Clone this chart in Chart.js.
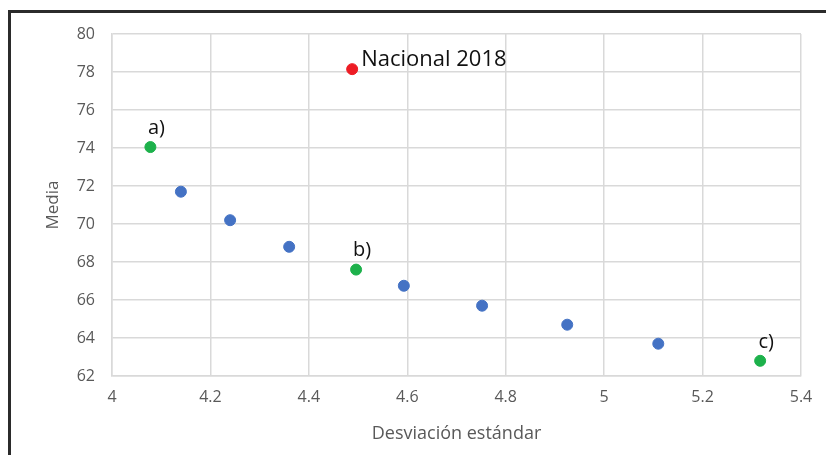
<!DOCTYPE html>
<html>
<head>
<meta charset="utf-8">
<script src="https://cdn.jsdelivr.net/npm/chart.js@4"></script>
<style>
    html, body { margin: 0; padding: 0; background: #fff; }
    .frame {
        position: absolute;
        left: 8px;
        top: 10px;
        width: 830px;
        height: 460px;
        border-left: 3px solid #2b2b2b;
        border-top: 3px solid #2b2b2b;
    }
    .chart-box {
        position: absolute;
        left: 0;
        top: 0;
        width: 826px;
        height: 455px;
    }
</style>
</head>
<body>
<div class="frame"></div>
<div class="chart-box"><canvas id="chart"></canvas></div>
<script>
// Data
const xTicks = [4, 4.2, 4.4, 4.6, 4.8, 5, 5.2, 5.4];
const yTicks = [62, 64, 66, 68, 70, 72, 74, 76, 78, 80];

const blueX = [4.14, 4.24, 4.36, 4.593, 4.752, 4.925, 5.11];
const blueY = [71.7, 70.2, 68.8, 66.75, 65.7, 64.7, 63.7];

const greenX = [4.078, 4.496, 5.317];
const greenY = [74.05, 67.6, 62.8];
const greenLabels = ['a)', 'b)', 'c)'];

const redX = [4.488];
const redY = [78.15];
const redLabels = ['Nacional 2018'];

const toPoints = (xs, ys) => xs.map((x, i) => ({ x: x, y: ys[i] }));

// Point labels
const pointLabels = {
    id: 'pointLabels',
    afterDatasetsDraw(chart) {
        const ctx = chart.ctx;
        ctx.save();
        ctx.fillStyle = '#111';
        ctx.textBaseline = 'middle';
        chart.data.datasets.forEach((ds, di) => {
            if (!ds.pointText) return;
            const meta = chart.getDatasetMeta(di);
            meta.data.forEach((el, i) => {
                const txt = ds.pointText[i];
                if (ds.labelSide === 'right') {
                    ctx.font = '22px "Open Sans"';
                    ctx.textAlign = 'left';
                    ctx.fillText(txt, el.x + 9, el.y - 9);
                } else {
                    ctx.font = '20px "Open Sans"';
                    ctx.textAlign = 'center';
                    ctx.fillText(txt, el.x + 6, el.y - 19);
                }
            });
        });
        ctx.restore();
    }
};

const ctx = document.getElementById('chart').getContext('2d');
const chart = new Chart(ctx, {
    type: 'scatter',
    data: {
        datasets: [
            {
                data: toPoints(blueX, blueY),
                backgroundColor: '#4472C4',
                borderColor: '#4472C4',
                pointRadius: 5.5
            },
            {
                data: toPoints(greenX, greenY),
                backgroundColor: '#1DB14B',
                borderColor: '#1DB14B',
                pointRadius: 5.5,
                pointText: greenLabels,
                labelSide: 'top'
            },
            {
                data: toPoints(redX, redY),
                backgroundColor: '#ED1C24',
                borderColor: '#ED1C24',
                pointRadius: 5.5,
                pointText: redLabels,
                labelSide: 'right'
            }
        ]
    },
    options: {
        responsive: true,
        maintainAspectRatio: false,
        animation: false,
        layout: {
            padding: { top: 34, right: 25, left: 38, bottom: 0 }
        },
        plugins: {
            legend: { display: false },
            tooltip: { enabled: false }
        },
        scales: {
            x: {
                type: 'linear',
                min: xTicks[0],
                max: xTicks[xTicks.length - 1],
                afterBuildTicks: axis => { axis.ticks = xTicks.map(v => ({ value: v })); },
                afterFit: axis => { axis.height = 79; },
                grid: { color: '#d9d9d9', lineWidth: 1.5, drawTicks: false },
                border: { color: '#d9d9d9', width: 1.5 },
                ticks: {
                    color: '#595959',
                    font: { family: 'Open Sans', size: 16 },
                    padding: 12,
                    callback: v => String(v)
                },
                title: {
                    display: true,
                    text: 'Desviación estándar',
                    color: '#595959',
                    font: { family: 'Open Sans', size: 18 },
                    padding: { top: 8, bottom: 10 }
                }
            },
            y: {
                type: 'linear',
                min: yTicks[0],
                max: yTicks[yTicks.length - 1],
                afterBuildTicks: axis => { axis.ticks = yTicks.map(v => ({ value: v })); },
                afterFit: axis => { axis.width = 74; },
                grid: { color: '#d9d9d9', lineWidth: 1.5, drawTicks: false },
                border: { color: '#d9d9d9', width: 1.5 },
                ticks: {
                    color: '#595959',
                    font: { family: 'Open Sans', size: 16 },
                    padding: 17,
                    callback: v => String(v)
                },
                title: {
                    display: true,
                    text: 'Media',
                    color: '#595959',
                    font: { family: 'Open Sans', size: 17 },
                    padding: { top: 5, bottom: 0 }
                }
            }
        }
    },
    plugins: [pointLabels]
});
</script>
</body>
</html>
